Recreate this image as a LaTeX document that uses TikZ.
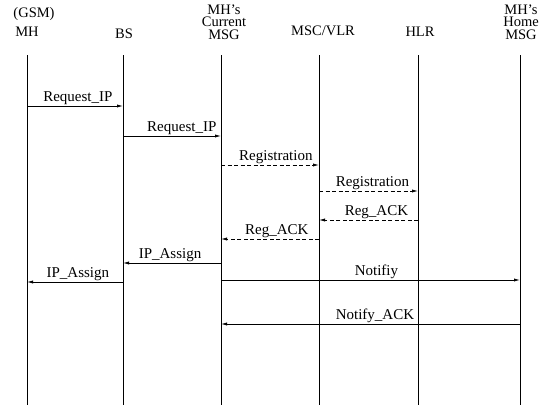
\documentclass[tikz,border=0pt]{standalone}
\usepackage{fontspec}
\setmainfont{Liberation Serif}
\usetikzlibrary{arrows.meta}
\begin{document}
\begin{tikzpicture}[x=1pt,y=-1pt,
 lifeline/.style={line width=1pt},
 msg/.style={line width=0.8pt,-{Latex[length=6pt,width=3.2pt]}},
 dmsg/.style={msg,dash pattern=on 4pt off 2.5pt},
 lbl/.style={font=\fontsize{15}{15}\selectfont,inner sep=1pt,anchor=south},
 hdr/.style={font=\fontsize{14.5}{12.5}\selectfont,align=center,inner sep=0pt}]
\useasboundingbox (0,0) rectangle (544,405);
% headers
\node[hdr] (hgsm) at (34,14) {(GSM)};
\node[hdr] (hmh) at (27,32) {MH};
\node[hdr] (hbs) at (124,34) {BS};
\node[hdr] (hcur) at (224,22) {MH’s\\Current\\MSG};
\node[hdr] (hvlr) at (323,31) {MSC/VLR};
\node[hdr] (hhlr) at (420,32) {HLR};
\node[hdr] (hhome) at (521,22) {MH’s\\Home\\MSG};
% lifelines
\foreach \n/\x in {1/27,2/123,3/221,4/319,5/418,6/520}{
  \coordinate (t\n) at (\x,55);
  \coordinate (b\n) at (\x,405);
  \draw[lifeline] (t\n) -- (b\n);
}
% message levels
\foreach \n/\y in {1/106,2/136,3/165,4/191,5/220,6/239,7/263,8/282,9/280,10/324}{
  \coordinate (y\n) at (0,\y);
}
\draw[msg] (t1 |- y1) -- node[lbl,pos=0.53]{Request\_IP} (t2 |- y1);
\draw[msg] (t2 |- y2) -- node[lbl,pos=0.6]{Request\_IP} (t3 |- y2);
\draw[dmsg] (t3 |- y3) -- node[lbl,pos=0.56]{Registration} (t4 |- y3);
\draw[dmsg] (t4 |- y4) -- node[lbl,pos=0.54]{Registration} (t5 |- y4);
\draw[dmsg] (t5 |- y5) -- node[lbl,pos=0.42]{Reg\_ACK} (t4 |- y5);
\draw[dmsg] (t4 |- y6) -- node[lbl,pos=0.43]{Reg\_ACK} (t3 |- y6);
\draw[msg] (t3 |- y7) -- node[lbl,pos=0.52]{IP\_Assign} (t2 |- y7);
\draw[msg] (t2 |- y8) -- node[lbl,pos=0.47]{IP\_Assign} (t1 |- y8);
\draw[msg] (t3 |- y9) -- node[lbl,pos=0.52]{Notifiy} (t6 |- y9);
\draw[msg] (t6 |- y10) -- node[lbl,pos=0.485]{Notify\_ACK} (t3 |- y10);
\end{tikzpicture}
\end{document}
